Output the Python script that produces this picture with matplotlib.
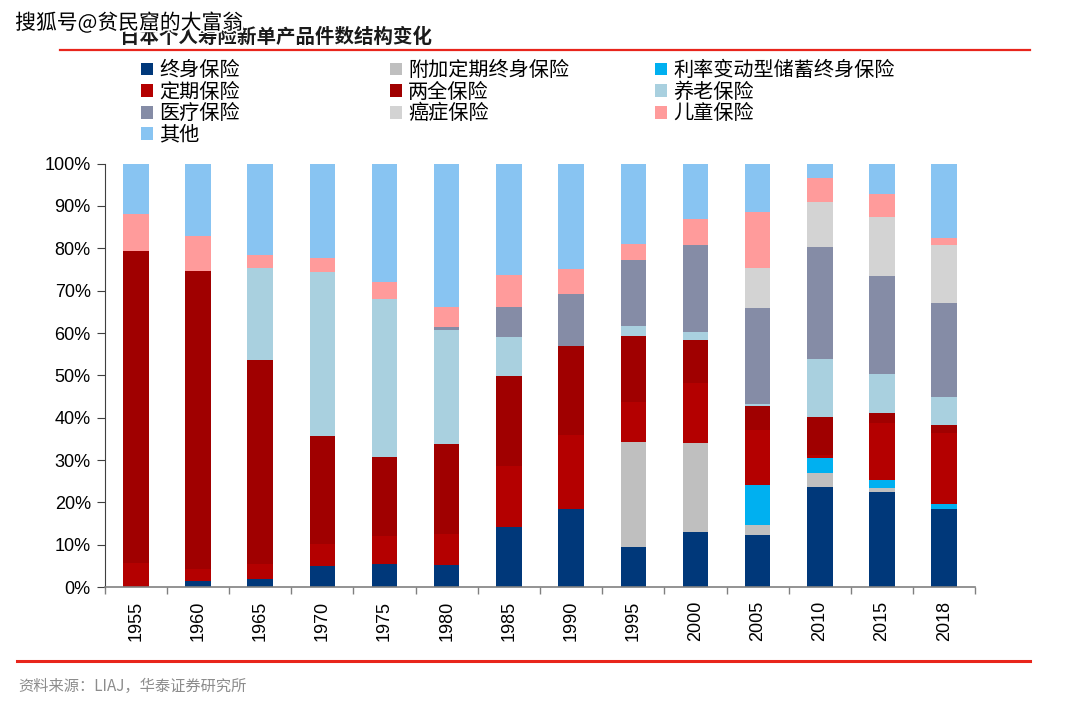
import matplotlib
matplotlib.use('Agg')
import matplotlib.pyplot as plt
import matplotlib.patheffects as pe
from matplotlib.lines import Line2D
from matplotlib.patches import Patch
from matplotlib.ticker import PercentFormatter, FixedLocator, NullFormatter

plt.rcParams['font.family'] = ['Noto Sans CJK SC', 'DejaVu Sans']

years = ['1955', '1960', '1965', '1970', '1975', '1980', '1985',
         '1990', '1995', '2000', '2005', '2010', '2015', '2018']

# 各险种占比（%），自下而上堆叠
whole_life = [0, 1.4, 2.0, 5.0, 5.5, 5.3, 14.3, 18.5, 9.4, 13.0, 12.2, 23.7, 22.4, 18.5]
term_rider = [0, 0, 0, 0, 0, 0, 0, 0, 24.9, 21.0, 2.4, 3.3, 1.0, 0]
variable_rate = [0, 0, 0, 0, 0, 0, 0, 0, 0, 0, 9.5, 3.5, 2.0, 1.2]
term = [5.7, 2.8, 3.4, 5.1, 6.5, 7.3, 14.4, 17.5, 9.4, 14.1, 13.0, 0.6, 13.4, 16.7]
endowment = [73.6, 70.4, 48.3, 25.5, 18.8, 21.2, 21.1, 21.0, 15.5, 10.3, 5.6, 9.1, 2.4, 1.8]
pension = [0, 0, 21.7, 38.8, 37.3, 26.9, 9.2, 0, 2.5, 1.8, 0.6, 13.7, 9.2, 6.8]
medical = [0, 0, 0, 0, 0, 0.8, 7.2, 12.3, 15.6, 20.6, 22.5, 26.4, 23.0, 22.1]
cancer = [0, 0, 0, 0, 0, 0, 0, 0, 0, 0, 9.6, 10.7, 14.1, 13.7]
child = [8.8, 8.4, 3.0, 3.2, 3.9, 4.6, 7.6, 5.8, 3.8, 6.1, 13.2, 5.7, 5.3, 1.7]
other = [11.9, 17.0, 21.6, 22.4, 28.0, 33.9, 26.2, 24.9, 18.9, 13.1, 11.4, 3.3, 7.2, 17.5]

series = [
    ('终身保险', whole_life, '#00387A'),
    ('附加定期终身保险', term_rider, '#BFBFBF'),
    ('利率变动型储蓄终身保险', variable_rate, '#00B0F0'),
    ('定期保险', term, '#B40000'),
    ('两全保险', endowment, '#A00000'),
    ('养老保险', pension, '#A9D0DF'),
    ('医疗保险', medical, '#858CA6'),
    ('癌症保险', cancer, '#D3D3D3'),
    ('儿童保险', child, '#FF9B9B'),
    ('其他', other, '#88C4F2'),
]

fig = plt.figure(figsize=(10.8, 7.24), dpi=100)
ax = fig.add_axes([0.097, 0.189, 0.806, 0.585])

x = list(range(len(years)))
bottom = [0.0] * len(years)
handles = {}
for name, vals, col in series:
    v = [a / 100 for a in vals]
    ax.bar(x, v, width=0.41, bottom=bottom, color=col, edgecolor='none')
    bottom = [b + a for b, a in zip(bottom, v)]
    handles[name] = Patch(facecolor=col, edgecolor='none')

ax.set_xlim(-0.5, len(years) - 0.5)
ax.set_ylim(0, 1)
ax.set_yticks([i / 10 for i in range(11)])
ax.yaxis.set_major_formatter(PercentFormatter(1.0, decimals=0))
ax.set_xticks(x)
ax.set_xticklabels(years, rotation=90, family=['Liberation Sans'], fontsize=13)
ax.xaxis.set_minor_locator(FixedLocator([i - 0.5 for i in range(len(years) + 1)]))
ax.xaxis.set_minor_formatter(NullFormatter())
ax.tick_params(axis='x', which='major', length=0, pad=10)
ax.tick_params(axis='x', which='minor', length=5, color='#808080', width=1)
ax.tick_params(axis='y', length=6, color='#404040', labelsize=13, pad=4)
for lab in ax.get_yticklabels():
    lab.set_family(['Liberation Sans'])
for s in ['top', 'right']:
    ax.spines[s].set_visible(False)
ax.spines['left'].set_color('#404040')
ax.spines['bottom'].set_color('#808080')
ax.spines['bottom'].set_linewidth(1.2)

# 图例，三列
cols = [['终身保险', '定期保险', '医疗保险', '其他'],
        ['附加定期终身保险', '两全保险', '癌症保险'],
        ['利率变动型储蓄终身保险', '养老保险', '儿童保险']]
xpos = [0.1306, 0.361, 0.6065]
for names, xp in zip(cols, xpos):
    fig.legend([handles[n] for n in names], names, loc='upper left',
               bbox_to_anchor=(xp, 0.917), frameon=False, fontsize=14.5,
               handlelength=0.6, handleheight=0.6, handletextpad=0.3,
               labelspacing=0.03, borderpad=0, borderaxespad=0)

# 标题与水印
fig.text(0.111, 0.948, '日本个人寿险新单产品件数结构变化', fontsize=14,
         fontweight='bold', color='#1a1a1a', va='center')
fig.text(0.014, 0.968, '搜狐号@贫民窟的大富翁', fontsize=15, color='black',
         va='center', path_effects=[pe.withStroke(linewidth=3, foreground='white')])

fig.add_artist(Line2D([0.056, 0.954], [0.931, 0.931], color='#E8251C', lw=1.6,
                      transform=fig.transFigure))
fig.add_artist(Line2D([0.016, 0.954], [0.087, 0.087], color='#E8251C', lw=2.2,
                      transform=fig.transFigure))
fig.text(0.017, 0.052, '资料来源：LIAJ，华泰证券研究所', fontsize=11,
         color='#8C8C8C', va='center')

fig.savefig('out.png', dpi=100)
